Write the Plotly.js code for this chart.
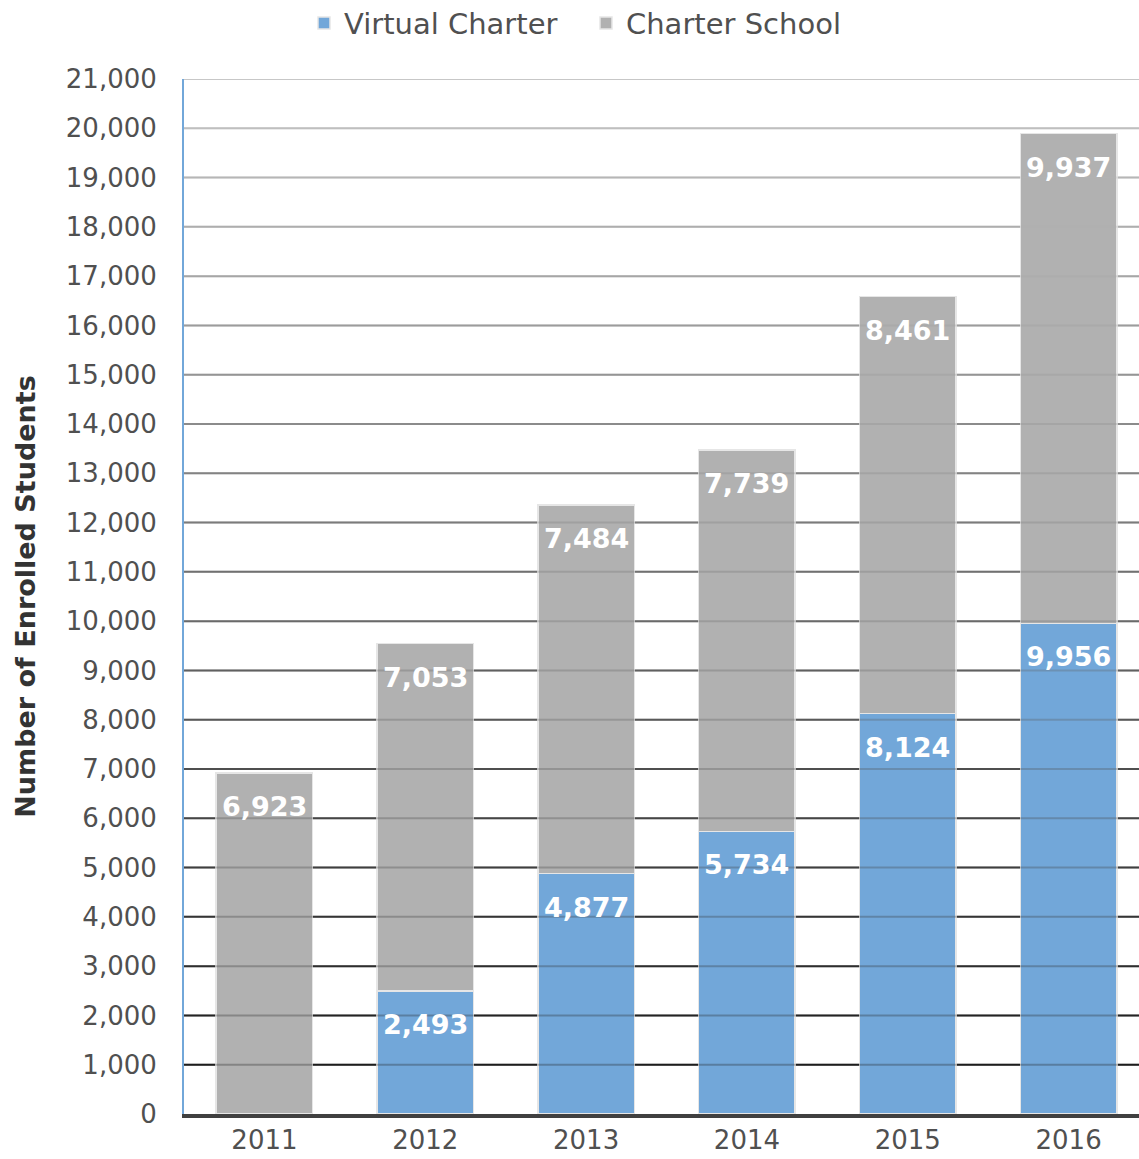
<!DOCTYPE html>
<html>
<head>
<meta charset="utf-8">
<script src="https://cdn.plot.ly/plotly-3.0.1.min.js"></script>
<style>
html,body{margin:0;padding:0;background:#fff;overflow:hidden;}
#chart{width:1149px;height:1159px;}
</style>
</head>
<body>
<div id="chart"></div>
<script>
const years = ['2011','2012','2013','2014','2015','2016'];
const virtualCharter = [0, 2493, 4877, 5734, 8124, 9956];
const charterSchool = [6923, 7053, 7484, 7739, 8461, 9937];
const yTicks = [0,1000,2000,3000,4000,5000,6000,7000,8000,9000,10000,11000,12000,13000,14000,15000,16000,17000,18000,19000,20000,21000];
const yTickLabels = yTicks.map(v => v.toLocaleString('en-US'));

const FONT = 'DejaVu Sans, Open Sans, sans-serif';
const blue = '#72a7d9';
const gray = '#b1b1b1';

const traces = [
  {type:'bar', name:'Virtual Charter', x:years, y:virtualCharter,
   marker:{color:blue, line:{color:'#e6e6e6', width:1.5}}, hoverinfo:'skip'},
  {type:'bar', name:'Charter School', x:years, y:charterSchool,
   marker:{color:gray, line:{color:'#e6e6e6', width:1.5}}, hoverinfo:'skip'}
];

function gridColor(i, n, alpha){
  const t = i/(n-1);
  const c = Math.round(20 + t*(200-20));
  return 'rgba('+c+','+c+','+c+','+alpha+')';
}
const shapes = [];
yTicks.forEach((v,i) => {
  if (i === 0) return;
  shapes.push({type:'line', xref:'paper', x0:0, x1:1, yref:'y', y0:v, y1:v,
    layer:'below', line:{color:gridColor(i, yTicks.length, 1), width:2}});
  shapes.push({type:'line', xref:'paper', x0:0, x1:1, yref:'y', y0:v, y1:v,
    layer:'above', line:{color:gridColor(i, yTicks.length, 0.3), width:2}});
});

const annotations = [];
years.forEach((yr,i) => {
  if (virtualCharter[i] > 0) {
    annotations.push({x:i, y:virtualCharter[i], xref:'x', yref:'y', yanchor:'top', yshift:-16,
      text:'<b>'+virtualCharter[i].toLocaleString('en-US')+'</b>', showarrow:false,
      font:{family:FONT, size:27, color:'#ffffff'}});
  }
  annotations.push({x:i, y:virtualCharter[i]+charterSchool[i], xref:'x', yref:'y', yanchor:'top', yshift:-16,
    text:'<b>'+charterSchool[i].toLocaleString('en-US')+'</b>', showarrow:false,
    font:{family:FONT, size:27, color:'#ffffff'}});
});

const layout = {
  width:1149, height:1159,
  margin:{l:184, r:0, t:79, b:45},
  barmode:'stack', bargap:0.4,
  paper_bgcolor:'#ffffff', plot_bgcolor:'#ffffff',
  font:{family:FONT, color:'#505050'},
  showlegend:true,
  legend:{orientation:'h', xref:'container', yref:'container', x:0.51, xanchor:'center', y:0.980, yanchor:'middle',
    font:{family:FONT, size:29, color:'#505050'}, traceorder:'normal', itemwidth:30, entrywidth:237},
  xaxis:{type:'category', range:[-0.5, 5.5], showgrid:false, showline:true, linecolor:'#404040', linewidth:4,
    ticks:'', tickfont:{family:FONT, size:26, color:'#505050'}, fixedrange:true},
  yaxis:{range:[0,21000], tickvals:yTicks, ticktext:yTickLabels, showgrid:false, zeroline:false,
    showline:true, linecolor:'#72a7d9', linewidth:2, ticks:'', ticklabelstandoff:20,
    tickfont:{family:FONT, size:26, color:'#505050'},
    title:{text:'<b>Number of Enrolled Students</b>', standoff:22, font:{family:FONT, size:27, color:'#333333'}},
    automargin:false, fixedrange:true},
  shapes:shapes,
  annotations:annotations
};

Plotly.newPlot('chart', traces, layout, {displayModeBar:false, staticPlot:true});
</script>
</body>
</html>
